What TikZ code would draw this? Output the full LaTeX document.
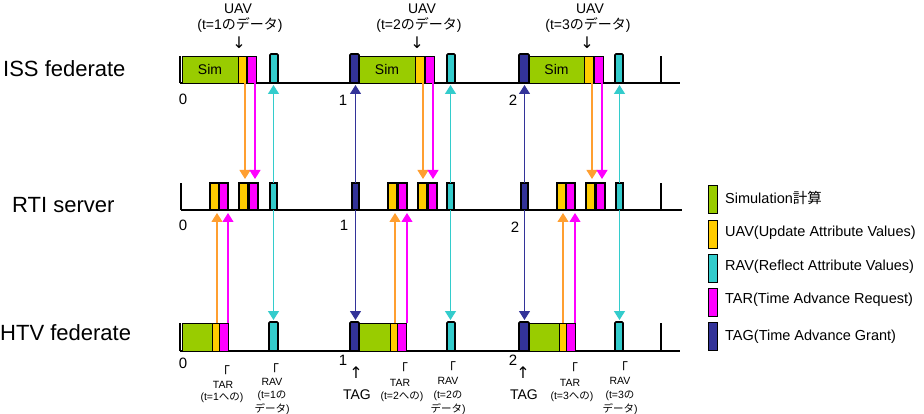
\documentclass[tikz,border=0pt]{standalone}
\usepackage{fontspec}
\setmainfont{Liberation Sans}
\newfontfamily\jp{Noto Sans CJK JP}
\newfontfamily\sym{DejaVu Sans}
\usetikzlibrary{arrows.meta,calc}
\definecolor{simg}{HTML}{99CC00}
\definecolor{uavc}{HTML}{FFCC00}
\definecolor{uavl}{HTML}{FF9F30}
\definecolor{tarc}{HTML}{FF00FF}
\definecolor{ravc}{HTML}{33CCCC}
\definecolor{tagc}{HTML}{333399}
\tikzset{
  axis/.style={draw=black, line width=1.4pt},
  bx/.style={draw=black, line width=0.7pt, inner sep=0pt, outer sep=0pt, anchor=south west, minimum height=27pt},
  simbox/.style={bx, fill=simg, font=\fontsize{14}{16}\selectfont},
  uavbox/.style={bx, fill=uavc},
  tarbox/.style={bx, fill=tarc},
  ravbox/.style={bx, fill=ravc, line width=1.6pt, minimum height=29pt, rounded corners=1pt},
  tagbox/.style={bx, fill=tagc, line width=1.6pt, minimum height=29pt, rounded corners=1pt},
  rravbox/.style={bx, fill=ravc, line width=1.4pt, minimum width=7pt},
  rtagbox/.style={bx, fill=tagc, line width=1.4pt, minimum width=7pt},
  po/.style={bx, fill=uavc, line width=2pt, minimum width=9pt},
  pm/.style={bx, fill=tarc, line width=2pt, minimum width=9pt},
  legbox/.style={draw=black, line width=0.7pt, inner sep=0pt, anchor=north west, minimum width=9pt, minimum height=28pt},
  rowlab/.style={font=\fontsize{22}{26}\selectfont, inner sep=0pt, anchor=west},
  num/.style={font=\fontsize{15}{18}\selectfont, inner sep=0pt},
  lab/.style={font=\fontsize{14}{16}\selectfont, inner sep=0pt},
  tinylab/.style={font=\fontsize{10.5}{12}\selectfont, inner sep=0pt},
  brk/.style={font=\jp\fontsize{14}{15}\selectfont, inner sep=0pt},
  uparr/.style={font=\sym\fontsize{16}{18}\selectfont, inner sep=0pt},
  taglab/.style={font=\fontsize{14}{16}\selectfont, inner sep=0pt},
  leg/.style={font=\fontsize{14.5}{17}\selectfont, inner sep=0pt, anchor=west},
  arr/.style={line width=1.1pt, -{Triangle[width=11pt,length=9pt]}},
  oarr/.style={arr, draw=uavl, fill=uavl},
  marr/.style={arr, draw=tarc, fill=tarc},
  carr/.style={arr, line width=1.3pt, draw=ravc, fill=ravc},
  narr/.style={arr, draw=tagc, fill=tagc},
}
\begin{document}
\begin{tikzpicture}[x=1pt,y=-1pt]
\useasboundingbox[fill=white] (0,0) rectangle (924,414);

% row labels
\node[rowlab] (lISS) at (3,69) {ISS federate};
\node[rowlab] (lRTI) at (12,205) {RTI server};
\node[rowlab] (lHTV) at (0,333) {HTV federate};

% axes
\coordinate (issL) at (180,83); \coordinate (issR) at (680,83); \coordinate (issE) at (661,83);
\coordinate (rtiL) at (181,210); \coordinate (rtiR) at (682,210); \coordinate (rtiE) at (661,210);
\coordinate (htvL) at (180,351); \coordinate (htvR) at (680,351); \coordinate (htvE) at (661,351);
\draw[axis] (issL) -- (issR);
\draw[axis] (issL) -- ++(0,-27);
\draw[axis] (issE) -- ++(0,-27);
\draw[axis] (rtiL) -- (rtiR);
\draw[axis] (rtiL) -- ++(0,-27);
\draw[axis] (rtiE) -- ++(0,-27);
\draw[axis] (htvL) -- (htvR);
\draw[axis] (htvL) -- ++(0,-28);
\draw[axis] (htvE) -- ++(0,-28);

% ISS boxes
\node[simbox, minimum width=56pt] (issS1) at (182,83) {Sim};
\node[uavbox, minimum width=8pt] (issU1) at (238,83) {};
\node[tarbox, minimum width=9pt] (issM1) at (247,83) {};
\node[ravbox, minimum width=8pt] (issC1) at (270,83) {};
\node[tagbox, minimum width=9pt] (issT2) at (350,83) {};
\node[simbox, minimum width=56pt] (issS2) at (359,83) {Sim};
\node[uavbox, minimum width=9pt] (issU2) at (415,83) {};
\node[tarbox, minimum width=9pt] (issM2) at (425,83) {};
\node[ravbox, minimum width=8pt] (issC2) at (447,83) {};
\node[tagbox, minimum width=10pt] (issT3) at (519,83) {};
\node[simbox, minimum width=55pt] (issS3) at (529,83) {Sim};
\node[uavbox, minimum width=9pt] (issU3) at (584,83) {};
\node[tarbox, minimum width=9pt] (issM3) at (594,83) {};
\node[ravbox, minimum width=8pt] (issC3) at (615,83) {};

% RTI boxes
\node[po] (rAo1) at (210,210) {};
\node[pm] (rAm1) at (219,210) {};
\node[po] (rBo1) at (239,210) {};
\node[pm] (rBm1) at (248.5,210) {};
\node[rravbox] (rC1) at (270,210) {};
\node[rtagbox] (rT2) at (352,210) {};
\node[po] (rAo2) at (388,210) {};
\node[pm] (rAm2) at (397.5,210) {};
\node[po] (rBo2) at (418,210) {};
\node[pm] (rBm2) at (427.5,210) {};
\node[rravbox] (rC2) at (447,210) {};
\node[rtagbox] (rT3) at (521,210) {};
\node[po] (rAo3) at (557,210) {};
\node[pm] (rAm3) at (566,210) {};
\node[po] (rBo3) at (586,210) {};
\node[pm] (rBm3) at (595.5,210) {};
\node[rravbox] (rC3) at (616,210) {};

% HTV boxes
\node[simbox, minimum width=30pt, minimum height=28pt] (htvS1) at (182,351) {};
\node[uavbox, minimum width=7pt, minimum height=28pt] (htvU1) at (212,351) {};
\node[tarbox, minimum width=9pt, minimum height=28pt] (htvM1) at (219,351) {};
\node[ravbox, minimum width=9pt] (htvC1) at (269,351) {};
\node[tagbox, minimum width=9pt] (htvT2) at (350,351) {};
\node[simbox, minimum width=31pt, minimum height=28pt] (htvS2) at (359,351) {};
\node[uavbox, minimum width=7pt, minimum height=28pt] (htvU2) at (390,351) {};
\node[tarbox, minimum width=9pt, minimum height=28pt] (htvM2) at (397,351) {};
\node[ravbox, minimum width=8pt] (htvC2) at (447,351) {};
\node[tagbox, minimum width=10pt] (htvT3) at (519,351) {};
\node[simbox, minimum width=30pt, minimum height=28pt] (htvS3) at (529,351) {};
\node[uavbox, minimum width=7pt, minimum height=28pt] (htvU3) at (559,351) {};
\node[tarbox, minimum width=9pt, minimum height=28pt] (htvM3) at (566,351) {};
\node[ravbox, minimum width=8pt] (htvC3) at (615,351) {};

% arrow x positions
\coordinate (xo1) at (245,0); \coordinate (xm1) at (255,0);
\coordinate (xo2) at (423,0); \coordinate (xm2) at (433,0);
\coordinate (xo3) at (592,0); \coordinate (xm3) at (602,0);
\coordinate (yo1) at (217,0); \coordinate (ym1) at (228,0);
\coordinate (yo2) at (395,0); \coordinate (ym2) at (407,0);
\coordinate (yo3) at (563,0); \coordinate (ym3) at (575,0);

% ISS -> RTI (UAV, TAR)
\draw[oarr, shorten >=4pt] (xo1 |- issU1.south) -- (xo1 |- rBo1.north);
\draw[marr, shorten >=4pt] (xm1 |- issM1.south) -- (xm1 |- rBm1.north);
\draw[oarr, shorten >=4pt] (xo2 |- issU2.south) -- (xo2 |- rBo2.north);
\draw[marr, shorten >=4pt] (xm2 |- issM2.south) -- (xm2 |- rBm2.north);
\draw[oarr, shorten >=4pt] (xo3 |- issU3.south) -- (xo3 |- rBo3.north);
\draw[marr, shorten >=4pt] (xm3 |- issM3.south) -- (xm3 |- rBm3.north);

% HTV -> RTI (UAV, TAR)
\draw[oarr, shorten >=3pt] (yo1 |- htvU1.north) -- (yo1 |- rAo1.south);
\draw[marr, shorten >=3pt] (ym1 |- htvM1.north) -- (ym1 |- rAm1.south);
\draw[oarr, shorten >=3pt] (yo2 |- htvU2.north) -- (yo2 |- rAo2.south);
\draw[marr, shorten >=3pt] (ym2 |- htvM2.north) -- (ym2 |- rAm2.south);
\draw[oarr, shorten >=3pt] (yo3 |- htvU3.north) -- (yo3 |- rAo3.south);
\draw[marr, shorten >=3pt] (ym3 |- htvM3.north) -- (ym3 |- rAm3.south);

% RTI -> ISS / HTV (RAV, TAG)
\draw[carr, shorten >=2pt] (rC1.north) -- (rC1.north |- issC1.south);
\draw[carr, shorten >=2pt] (rC1.south) -- (rC1.south |- htvC1.north);
\draw[carr, shorten >=2pt] (rC2.north) -- (rC2.north |- issC2.south);
\draw[carr, shorten >=2pt] (rC2.south) -- (rC2.south |- htvC2.north);
\draw[carr, shorten >=2pt] (rC3.north) -- (rC3.north |- issC3.south);
\draw[carr, shorten >=2pt] (rC3.south) -- (rC3.south |- htvC3.north);
\draw[narr, shorten >=2pt] (rT2.north) -- (rT2.north |- issT2.south);
\draw[narr, shorten >=2pt] (rT2.south) -- (rT2.south |- htvT2.north);
\draw[narr, shorten >=2pt] (rT3.north) -- (rT3.north |- issT3.south);
\draw[narr, shorten >=2pt] (rT3.south) -- (rT3.south |- htvT3.north);

% tick numbers
\node[num] (n0a) at (183,99) {0};
\node[num] (n1a) at (343,100) {1};
\node[num] (n2a) at (513,100) {2};
\node[num] (n0b) at (183,225) {0};
\node[num] (n1b) at (344,225) {1};
\node[num] (n2b) at (515,227) {2};
\node[num] (n0c) at (183,363) {0};
\node[num] (n1c) at (343,360) {1};
\node[num] (n2c) at (513,360) {2};

% UAV labels on top
\node[lab] (u1a) at (238,9) {UAV};
\node[lab] (u1b) at (240,25) {(t=1{\jp のデータ})};
\node[uparr] (u1c) at (239,43) {↓};
\node[lab] (u2a) at (422,9) {UAV};
\node[lab] (u2b) at (419,25) {(t=2{\jp のデータ})};
\node[uparr] (u2c) at (417,43) {↓};
\node[lab] (u3a) at (590,9) {UAV};
\node[lab] (u3b) at (588,25) {(t=3{\jp のデータ})};
\node[uparr] (u3c) at (587,43) {↓};

% HTV bottom labels
\node[brk] (t1a) at (223,372) {「};
\node[tinylab] (t1b) at (223,385) {TAR};
\node[tinylab] (t1c) at (222,398) {(t=1{\jp への})};
\node[brk] (r1a) at (272,370) {「};
\node[tinylab] (r1b) at (272,382) {RAV};
\node[tinylab] (r1c) at (272,396) {(t=1{\jp の}};
\node[tinylab] (r1d) at (272,409) {{\jp データ})};

\node[uparr] (g2a) at (356,373) {↑};
\node[taglab] (g2b) at (357,395) {TAG};
\node[brk] (t2a) at (401,369) {「};
\node[tinylab] (t2b) at (400,383) {TAR};
\node[tinylab] (t2c) at (402,397) {(t=2{\jp への})};
\node[brk] (r2a) at (449,368) {「};
\node[tinylab] (r2b) at (448,381) {RAV};
\node[tinylab] (r2c) at (448,396) {(t=2{\jp の}};
\node[tinylab] (r2d) at (448,409) {{\jp データ})};

\node[uparr] (g3a) at (523,373) {↑};
\node[taglab] (g3b) at (524,395) {TAG};
\node[brk] (t3a) at (571,369) {「};
\node[tinylab] (t3b) at (570,383) {TAR};
\node[tinylab] (t3c) at (572,397) {(t=3{\jp への})};
\node[brk] (r3a) at (621,368) {「};
\node[tinylab] (r3b) at (620,381) {RAV};
\node[tinylab] (r3c) at (620,396) {(t=3{\jp の}};
\node[tinylab] (r3d) at (620,409) {{\jp データ})};

% legend
\node[legbox, fill=simg] (lg1) at (708,185) {};
\node[legbox, fill=uavc] (lg2) at (708,220) {};
\node[legbox, fill=ravc] (lg3) at (708,254) {};
\node[legbox, fill=tarc] (lg4) at (708,288) {};
\node[legbox, fill=tagc] (lg5) at (708,322) {};
\node[leg] (lt1) at (725,198) {Simulation{\jp 計算}};
\node[leg] (lt2) at (725,233) {UAV(Update Attribute Values)};
\node[leg] (lt3) at (725,267) {RAV(Reflect Attribute Values)};
\node[leg] (lt4) at (725,300) {TAR(Time Advance Request)};
\node[leg] (lt5) at (725,337) {TAG(Time Advance Grant)};
\end{tikzpicture}
\end{document}
